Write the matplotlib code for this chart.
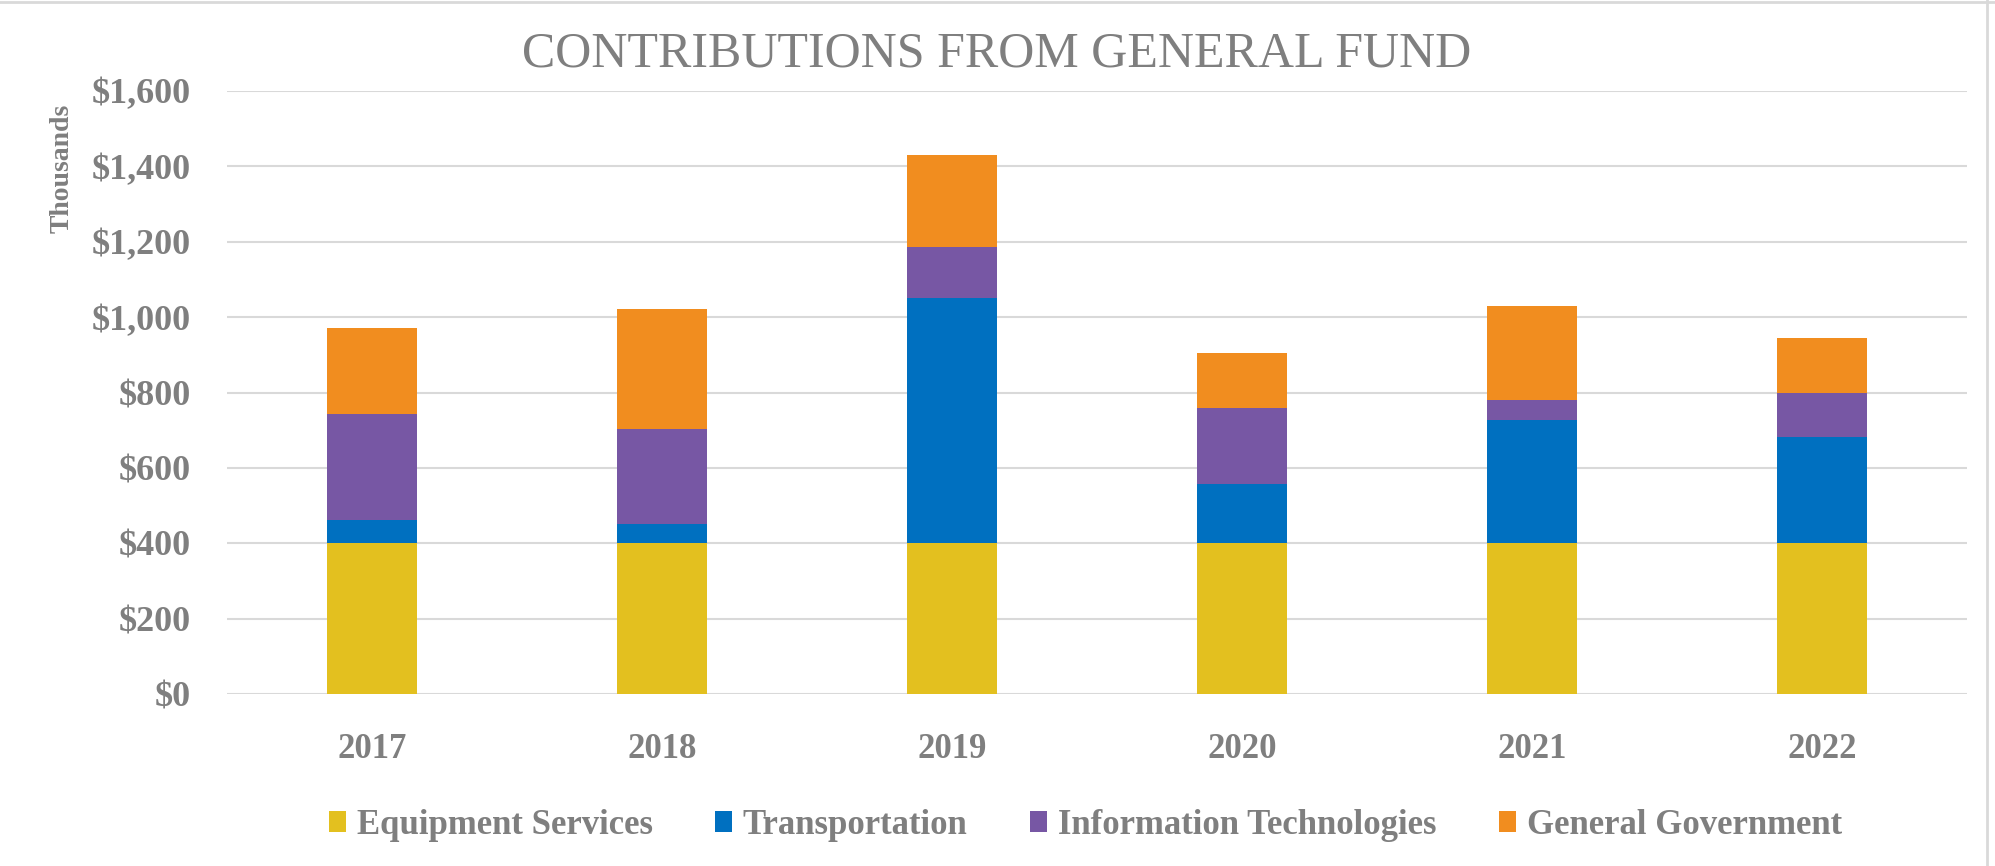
import numpy as np
import matplotlib
matplotlib.use("Agg")
import matplotlib.pyplot as plt
from matplotlib.patches import Patch
from matplotlib.lines import Line2D
from matplotlib.ticker import FuncFormatter

# values in thousands
years = ["2017", "2018", "2019", "2020", "2021", "2022"]
equipment = [400, 400, 400, 400, 400, 400]
transportation = [63, 52, 652, 158, 328, 282]
info_tech = [279, 250, 134, 200, 52, 117]
general_gov = [228, 319, 245, 146, 249, 145]

series = ["Equipment Services", "Transportation", "Information Technologies", "General Government"]
colors = ["#E3C01F", "#0070C0", "#7757A4", "#F18D1F"]
grey = "#7F7F7F"

plt.rcParams['font.family'] = ['Liberation Serif', 'DejaVu Serif']

fig = plt.figure(figsize=(19.95, 8.66), dpi=100)
ax = fig.add_axes([0.1138, 0.1986, 0.986 - 0.1138, 0.8949 - 0.1986])

x = np.arange(len(years))
bottom = np.zeros(len(years))
for vals, c in zip([equipment, transportation, info_tech, general_gov], colors):
    ax.bar(x, vals, width=0.31, bottom=bottom, color=c, zorder=3)
    bottom += np.array(vals)

ax.set_xlim(-0.5, len(years) - 0.5)
ax.set_ylim(0, 1600)
ax.set_yticks(np.arange(0, 1601, 200))
ax.yaxis.set_major_formatter(FuncFormatter(lambda v, p: "${:,.0f}".format(v)))
ax.set_xticks(x)
ax.set_xticklabels(years)
ax.grid(axis="y", color="#D9D9D9", linewidth=1.5, zorder=0)
for s in ax.spines.values():
    s.set_visible(False)
ax.tick_params(axis="both", length=0, colors=grey)
ax.tick_params(axis="x", pad=28, labelsize=25)
ax.tick_params(axis="y", pad=26, labelsize=26)
for lab in ax.get_xticklabels() + ax.get_yticklabels():
    lab.set_fontweight("bold")

fig.text(0.031, 0.805, "Thousands", rotation=90, ha="center", va="center",
         color=grey, fontsize=20, fontweight="bold")
fig.text(0.4994, 0.937, "CONTRIBUTIONS FROM GENERAL FUND", ha="center", va="center",
         color=grey, fontsize=36)

handles = [Patch(facecolor=c, edgecolor="none") for c in colors]
fig.legend(handles, series, loc="center", bbox_to_anchor=(0.544, 0.047), ncol=4,
           frameon=False, handlelength=0.5, handleheight=0.55,
           handletextpad=0.3, columnspacing=1.8,
           prop={"weight": "bold", "size": 25})
for t in fig.legends[0].get_texts():
    t.set_color(grey)

# chart border on top and right edges
fig.add_artist(Line2D([0, 1], [0.998, 0.998], transform=fig.transFigure, color="#D9D9D9", lw=2))
fig.add_artist(Line2D([0.996, 0.996], [0, 1], transform=fig.transFigure, color="#D9D9D9", lw=2))

fig.savefig("out.png", dpi=100)
